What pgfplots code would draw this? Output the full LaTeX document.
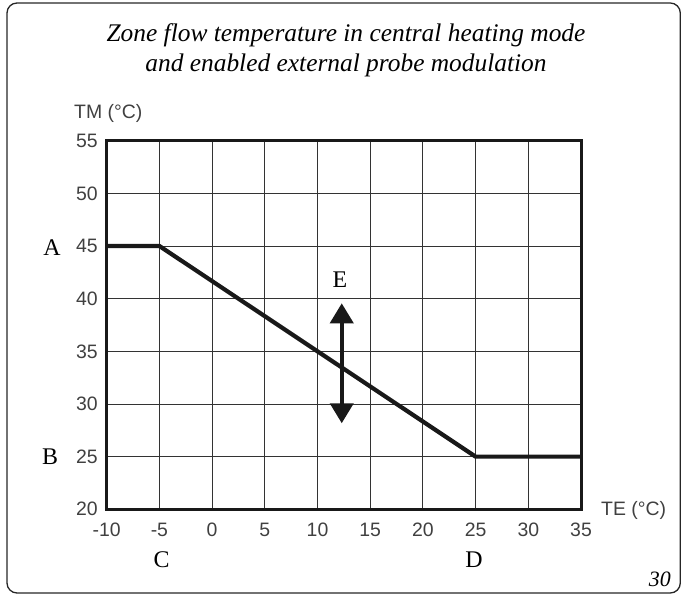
\documentclass[border=0pt]{standalone}
\usepackage{fontspec}
\setmainfont{Liberation Serif}
\newfontfamily\tickfont{Liberation Sans}
\usepackage{pgfplots}
\pgfplotsset{compat=1.18}
\usetikzlibrary{arrows.meta}
\begin{document}
\begin{tikzpicture}[x=1bp,y=1bp]
\useasboundingbox (0,0) rectangle (681,596);
\draw[black!85, line width=1.3bp, rounded corners=10bp] (7,3) rectangle (680.3,593);
\node[font=\fontsize{25.5}{30}\selectfont\itshape, anchor=base] at (346,554) {Zone flow temperature in central heating mode};
\node[font=\fontsize{25.5}{30}\selectfont\itshape, anchor=base] at (346,524) {and enabled external probe modulation};
\begin{axis}[
  at={(106.7bp,86.7bp)}, anchor=south west,
  scale only axis, width=474.3bp, height=368.6bp,
  xmin=-10, xmax=35, ymin=20, ymax=55,
  xtick={-10,-5,...,35}, ytick={20,25,...,55},
  xticklabels={-10,-5,0,5,10,15,20,25,30,35},
  grid=major,
  major grid style={black!80, line width=0.9bp},
  axis line style={line width=3bp, black!90},
  tick style={draw=none},
  /pgf/number format/assume math mode=true,
  ticklabel style={font=\tickfont\fontsize{19.5}{19.5}\selectfont, text=black!75},
  xticklabel style={anchor=base, yshift=-27.7bp},
  yticklabel style={anchor=east, inner sep=0pt, xshift=-8.7bp},
  clip=false,
]
\addplot[black!90, line width=4.2bp, line join=round] coordinates {(-10,45) (-5,45) (25,25) (35,25)};
\addplot[black!90, line width=4bp, {Triangle[length=20bp,width=23bp]}-{Triangle[length=20bp,width=23bp]}] coordinates {(12.3,28.17) (12.3,39.56)};
\end{axis}
\node[font=\fontsize{24}{24}\selectfont, anchor=base] at (340,308) {E};
\node[font=\fontsize{24}{24}\selectfont, anchor=base] at (52,340) {A};
\node[font=\fontsize{24}{24}\selectfont, anchor=base] at (50,131) {B};
\node[font=\fontsize{24}{24}\selectfont, anchor=base] at (161.7,28) {C};
\node[font=\fontsize{24}{24}\selectfont, anchor=base] at (474,28) {D};
\node[font=\tickfont\fontsize{19.5}{19.5}\selectfont, text=black!75, anchor=base west, inner sep=0pt] at (74,477) {TM (°C)};
\node[font=\tickfont\fontsize{19.5}{19.5}\selectfont, text=black!75, anchor=west, inner sep=0pt] at (601,86) {TE (°C)};
\node[font=\fontsize{22}{22}\selectfont\itshape, anchor=base east, inner sep=0pt] at (671,9) {30};
\end{tikzpicture}
\end{document}
